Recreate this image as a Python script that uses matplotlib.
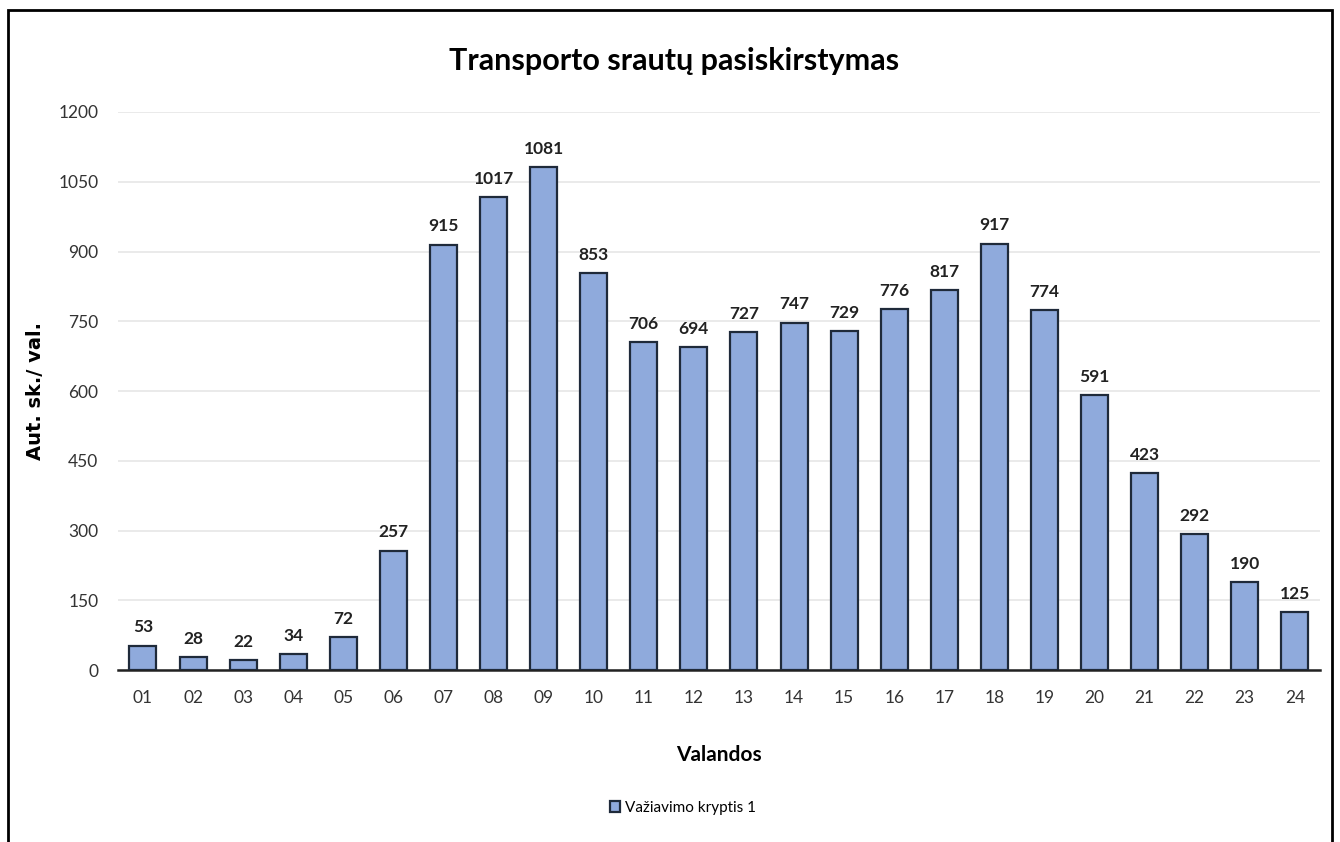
import numpy as np
import matplotlib.pyplot as plt
from matplotlib.patches import Rectangle

# duomenys
valandos = ['01', '02', '03', '04', '05', '06', '07', '08', '09', '10', '11', '12',
            '13', '14', '15', '16', '17', '18', '19', '20', '21', '22', '23', '24']
srautai = [53, 28, 22, 34, 72, 257, 915, 1017, 1081, 853, 706, 694,
           727, 747, 729, 776, 817, 917, 774, 591, 423, 292, 190, 125]
y_ticks = [0, 150, 300, 450, 600, 750, 900, 1050, 1200]

plt.rcParams['font.family'] = ['Lato', 'DejaVu Sans']

fig = plt.figure(figsize=(13.4, 8.42), dpi=100)
ax = fig.add_axes([0.088, 0.204, 0.897, 0.663])

x = np.arange(len(valandos))
bars = ax.bar(x, srautai, width=0.54, color='#8faadc', edgecolor='#1f2a3a',
              linewidth=1.6, label='Važiavimo kryptis 1', zorder=3)

# reiksmes virs stulpeliu
for xi, v in zip(x, srautai):
    ax.text(xi, v + 22, str(v), ha='center', va='bottom', fontsize=12.5,
            fontweight='bold', color='#222222')

ax.set_xlim(-0.5, 23.5)
ax.set_ylim(0, 1200)
ax.set_yticks(y_ticks)
ax.set_xticks(x)
ax.set_xticklabels(valandos)
ax.tick_params(axis='both', length=0, labelsize=12.5, colors='#333333')
ax.tick_params(axis='x', pad=14)
ax.tick_params(axis='y', pad=14)
ax.grid(axis='y', color='#e6e6e6', linewidth=1.2, zorder=0)
for s in ['top', 'right', 'left']:
    ax.spines[s].set_visible(False)
ax.spines['bottom'].set_color('#222222')
ax.spines['bottom'].set_linewidth(1.8)

ax.set_xlabel('Valandos', fontsize=15, fontweight='bold')
ax.xaxis.set_label_coords(0.5, -0.134)
ax.set_ylabel('Aut. sk./ val.', fontsize=14, fontweight='bold', family='DejaVu Sans')
ax.yaxis.set_label_coords(-0.061, 0.5)
fig.text(0.503, 0.928, 'Transporto srautų pasiskirstymas', ha='center', va='center',
         fontsize=22, fontweight='bold')

ax.legend(loc='center', bbox_to_anchor=(0.47, -0.247), frameon=False, fontsize=11,
          handlelength=0.7, handleheight=0.7, handletextpad=0.3)

# remelis aplink
fig.patches.append(Rectangle((8 / 1340, -0.01), 1324 / 1340, 1 - 10 / 842 + 0.01,
                             transform=fig.transFigure, fill=False,
                             edgecolor='black', linewidth=2))

fig.savefig('out.png', dpi=100)
